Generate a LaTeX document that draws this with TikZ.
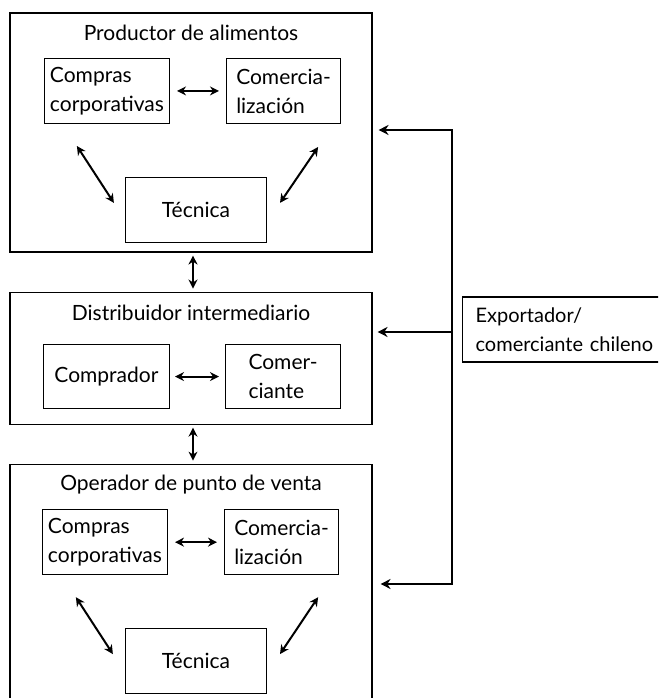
\documentclass[tikz,border=0pt]{standalone}
\usepackage{fontspec}
\setmainfont{Lato}
\usetikzlibrary{positioning,arrows.meta}

\begin{document}
\begin{tikzpicture}[
    x=1pt, y=1pt,
    node distance=39pt,
    group/.style={rectangle, draw, line width=1.1pt, minimum width=362pt, inner sep=0pt},
    sub/.style={rectangle, draw, line width=1.1pt, minimum height=65pt, align=left, inner sep=0pt, font=\fontsize{21}{29}\selectfont},
    title/.style={font=\fontsize{21}{25}\selectfont},
    arrow/.style={{Stealth[length=9pt,width=9pt]}-{Stealth[length=9pt,width=9pt]}, line width=2pt},
    feed/.style={-{Stealth[length=10pt,width=10pt]}, line width=2.6pt}
]
    \clip (0,0) rectangle (658,698);

    % Groups
    \node[group, minimum height=239pt] (prod) at (191,565.5) {};
    \node[group, minimum height=132pt, below=of prod] (dist) {};
    \node[group, minimum height=239pt, below=of dist] (oper) {};

    % Titles
    \node[title] (prodt) at ([yshift=-20pt]prod.north) {Productor de alimentos};
    \node[title] (distt) at ([yshift=-21pt]dist.north) {Distribuidor intermediario};
    \node[title] (opert) at ([yshift=-21pt]oper.north) {Operador de punto de venta};

    % Productor
    \node[sub, minimum width=125pt] (cp1) at ([shift={(97.5,-78.5)}]prod.north west) {Compras\\corporativas};
    \node[sub, minimum width=114pt, right=56pt of cp1] (cm1) {Comercia-\\lización};
    \node[sub, minimum width=141pt] (tc1) at ([shift={(186.5,-197.5)}]prod.north west) {Técnica};

    % Distribuidor
    \node[sub, minimum width=126pt, minimum height=64pt] (cr2) at ([shift={(97,-85)}]dist.north west) {Comprador};
    \node[sub, minimum width=115pt, minimum height=64pt, right=55pt of cr2] (ct2) {Comer-\\ciante};

    % Operador
    \node[sub, minimum width=125pt] (cp3) at ([shift={(95.5,-78.5)}]oper.north west) {Compras\\corporativas};
    \node[sub, minimum width=114pt, right=56pt of cp3] (cm3) {Comercia-\\lización};
    \node[sub, minimum width=141pt] (tc3) at ([shift={(186.5,-197.5)}]oper.north west) {Técnica};

    % Exportador (runs off the right edge)
    \node[sub, anchor=west, inner xsep=13pt, text width=200pt, font=\fontsize{20}{29}\selectfont] (exp) at (462,368.5) {Exportador/\\comerciante chileno};

    % Arrows inside groups
    \draw[arrow, shorten <=7pt, shorten >=7pt] (cp1) -- (cm1);
    \draw[arrow] ([shift={(33,-22)}]cp1.south west) -- ([shift={(-11,-26)}]tc1.north west);
    \draw[arrow] ([shift={(-23,-23)}]cm1.south east) -- ([shift={(13,-26)}]tc1.north east);
    \draw[arrow, shorten <=5pt, shorten >=6pt] (cr2) -- (ct2);
    \draw[arrow, shorten <=7pt, shorten >=7pt] (cp3) -- (cm3);
    \draw[arrow] ([shift={(34,-22)}]cp3.south west) -- ([shift={(-12,-26)}]tc3.north west);
    \draw[arrow] ([shift={(-21,-22)}]cm3.south east) -- ([shift={(13,-26)}]tc3.north east);

    % Arrows between groups
    \draw[arrow, shorten <=3pt, shorten >=3pt] ([xshift=2pt]prod.south) -- ([xshift=2pt]dist.north);
    \draw[arrow, shorten <=3pt, shorten >=3pt] ([xshift=2pt]dist.south) -- ([xshift=2pt]oper.north);

    % Exportador links
    \coordinate (b1) at (452,568);
    \coordinate (b2) at (452,366);
    \coordinate (b3) at (452,114);
    \draw[feed, {Stealth[length=10pt,width=10pt]}-{Stealth[length=10pt,width=10pt]}, shorten <=6pt, shorten >=8pt] (b1 -| prod.east) -- (b1) -- (b3) -- (b3 -| oper.east);
    \draw[feed, shorten >=5pt] (b2) -- (b2 -| dist.east);
\end{tikzpicture}
\end{document}
